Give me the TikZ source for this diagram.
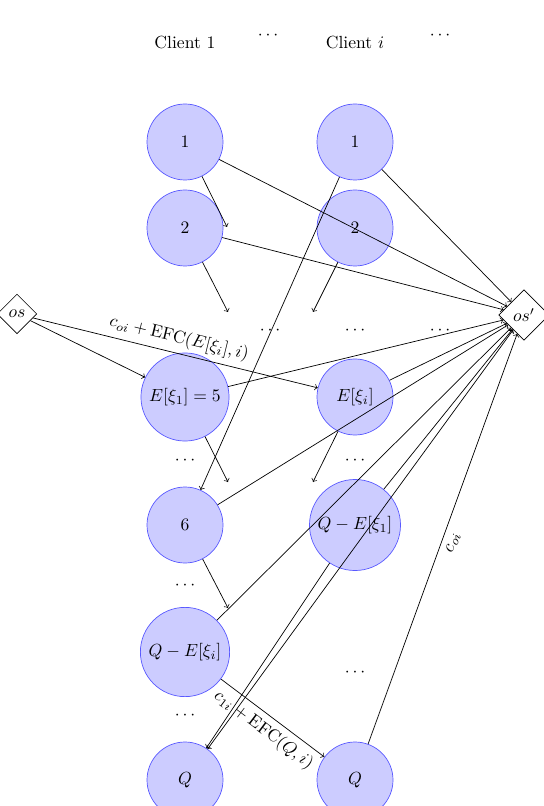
\documentclass[tikz,border=0pt]{standalone}
\usetikzlibrary{shapes.geometric}

\begin{document}
\begin{tikzpicture}[>=to,
  state/.style={circle, draw=blue!65, fill=blue!20, minimum size=1.52cm},
  sink/.style={diamond, draw, aspect=1, inner sep=2.2pt}]
  \useasboundingbox (0,0) rectangle (10.86,-16.12);

  % Clients
  \node (h1) at (3.7,-0.86) {Client 1};
  \node (h2) at (5.36,-0.72) {$\cdots$};
  \node (h3) at (7.1,-0.86) {Client $i$};
  \node (h4) at (8.8,-0.72) {$\cdots$};

  % Source and sink
  \node[sink] (os) at (0.34,-6.28) {$os$};
  \node[sink] (osp) at (10.48,-6.3) {$os'$};

  % Client 1 column
  \node[state] (n1a) at (3.7,-2.84) {1};
  \node[state] (n1b) at (3.7,-4.56) {2};
  \node[state] (n1c) at (3.7,-7.94) {$E[\xi_1]=5$};
  \node[state] (n1d) at (3.7,-10.5) {6};
  \node[state] (n1e) at (3.7,-13.04) {$Q-E[\xi_i]$};
  \node[state] (n1f) at (3.7,-15.6) {$Q$};

  % Client i column
  \node[state] (n2a) at (7.1,-2.84) {1};
  \node[state] (n2b) at (7.1,-4.56) {2};
  \node[state] (n2c) at (7.1,-7.94) {$E[\xi_i]$};
  \node[state] (n2d) at (7.1,-10.5) {$Q-E[\xi_1]$};
  \node[state] (n2f) at (7.1,-15.6) {$Q$};

  % Dots
  \node (d1) at (5.4,-6.62) {$\cdots$};
  \node (d2) at (7.1,-6.62) {$\cdots$};
  \node (d3) at (8.8,-6.62) {$\cdots$};
  \node (d4) at (3.7,-9.22) {$\cdots$};
  \node (d5) at (7.1,-9.22) {$\cdots$};
  \node (d6) at (3.7,-11.72) {$\cdots$};
  \node (d7) at (3.7,-14.32) {$\cdots$};
  \node (d8) at (7.1,-13.46) {$\cdots$};

  % Loose arrow ends
  \coordinate (t1) at (4.54,-4.54);
  \coordinate (t2) at (4.56,-6.24);
  \coordinate (t3) at (6.26,-6.24);
  \coordinate (t4) at (4.56,-9.64);
  \coordinate (t5) at (6.26,-9.64);
  \coordinate (t6) at (4.56,-12.16);

  % Arcs
  \draw[->] (n1a) -- (t1);
  \draw[->] (n1a) -- (osp);
  \draw[->] (n1b) -- (osp);
  \draw[->] (n1b) -- (t2);
  \draw[->] (n2a) -- (osp);
  \draw[->] (n2a) -- (n1d);
  \draw[->] (n2b) -- (t3);
  \draw[->] (os) -- (n1c);
  \draw[->] (os) -- (n2c)
    node[midway, above, sloped] {$c_{oi}+\mathrm{EFC}(E[\xi_i],i)$};
  \draw[->] (n1c) -- (osp);
  \draw[->] (n1c) -- (t4);
  \draw[->] (n2c) -- (osp);
  \draw[->] (n2c) -- (t5);
  \draw[->] (n1d) -- (osp);
  \draw[->] (n1d) -- (t6);
  \draw[->] (n1e) -- (osp);
  \draw[->] (n2d) -- (osp);
  \draw[->] (n2d) -- (n1f);
  \draw[<->] (osp) -- (n1f);
  \draw[->] (n1e) -- (n2f)
    node[midway, below, sloped] {$c_{1i}+\mathrm{EFC}(Q,i)$};
  \draw[->] (n2f) -- (osp)
    node[midway, below, sloped] {$c_{oi}$};

\end{tikzpicture}
\end{document}
